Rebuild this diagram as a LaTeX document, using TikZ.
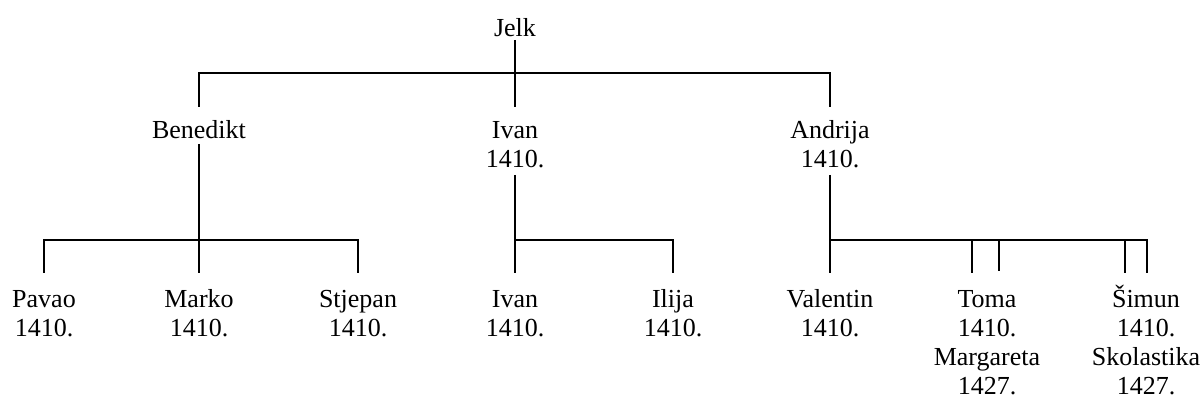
\documentclass[tikz,border=0pt]{standalone}
\usepackage{fontspec}
\setmainfont{Liberation Serif}
\usetikzlibrary{calc}
\newcommand\rows[1]{\begin{tabular}[t]{@{}c@{}}#1\end{tabular}}
\begin{document}
\begin{tikzpicture}[x=1pt,y=-1pt,
  person/.style={anchor=base,inner sep=0pt,font=\fontsize{26}{29}\selectfont},
  link/.style={draw,line width=1.8pt}]
\useasboundingbox (0,0) rectangle (1202,403);
% nodes
\node[person] (jelk) at (515,37) {\rows{Jelk}};
\node[person] (ben) at (199,139) {\rows{Benedikt}};
\node[person] (ivan) at (515,139) {\rows{Ivan\\1410.}};
\node[person] (andr) at (830,139) {\rows{Andrija\\1410.}};
\node[person] (pav) at (44,308) {\rows{Pavao\\1410.}};
\node[person] (mar) at (199,308) {\rows{Marko\\1410.}};
\node[person] (stj) at (358,308) {\rows{Stjepan\\1410.}};
\node[person] (ivan2) at (515,308) {\rows{Ivan\\1410.}};
\node[person] (ilija) at (673,308) {\rows{Ilija\\1410.}};
\node[person] (val) at (830,308) {\rows{Valentin\\1410.}};
\node[person] (toma) at (987,308) {\rows{Toma\\1410.\\Margareta\\1427.}};
\node[person] (simun) at (1146,308) {\rows{Šimun\\1410.\\Skolastika\\1427.}};
% bar junctions and line ends
\coordinate (topbar) at (515,73);
\coordinate (benbar) at (199,240);
\coordinate (ivanbar) at (515,240);
\coordinate (andrbar) at (830,240);
\coordinate (jelkend) at ($(jelk.south)+(0,-6)$);
% connectors
\draw[link] (jelk.south |- 0,40) -- (ivan.north |- 0,107);
\draw[link] (ben.north |- 0,107) |- (topbar) -| (andr.north |- 0,107);
\draw[link] (ben.south |- 0,144) -- (mar.north |- 0,273);
\draw[link] (pav.north |- 0,273) |- (benbar) -| (stj.north |- 0,273);
\draw[link] (ivan.south |- 0,175) -- (ivan2.north |- 0,273);
\draw[link] (ivanbar) -| (ilija.north |- 0,273);
\draw[link] (andr.south |- 0,175) -- (val.north |- 0,273);
\draw[link] (andrbar) -| ([xshift=1pt]simun.north |- 0,273);
\draw[link] ([xshift=-15pt]toma.north |- andrbar) -- ([xshift=-15pt]toma.north |- 0,273);
\draw[link] ([xshift=12pt]toma.north |- andrbar) -- ([xshift=12pt]toma.north |- 0,271);
\draw[link] ([xshift=-21pt]simun.north |- andrbar) -- ([xshift=-21pt]simun.north |- 0,273);
\end{tikzpicture}
\end{document}
